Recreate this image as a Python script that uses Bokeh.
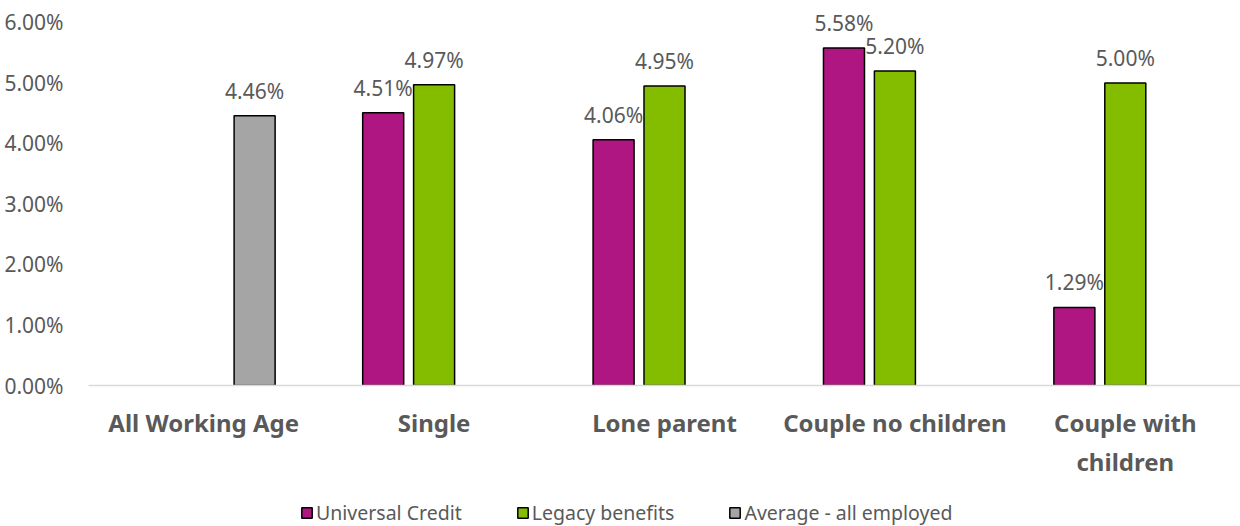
from bokeh.plotting import figure
from bokeh.layouts import column
from bokeh.models import (ColumnDataSource, Range1d, FactorRange, PrintfTickFormatter,
                          FixedTicker, Legend, LegendItem, LabelSet)
from bokeh.core.properties import value
from bokeh.transform import dodge
from bokeh.embed import file_html
from bokeh.resources import INLINE

categories = ["All Working Age", "Single", "Lone parent", "Couple no children", "Couple with\nchildren"]
universal_credit = [None, 4.51, 4.06, 5.58, 1.29]
legacy_benefits = [None, 4.97, 4.95, 5.20, 5.00]
average_all_employed = [4.46, None, None, None, None]
y_ticks = [0, 1, 2, 3, 4, 5, 6]

series = [
    ("Universal Credit", universal_credit, "#B01682", -0.221),
    ("Legacy benefits", legacy_benefits, "#84BD00", 0.0),
    ("Average - all employed", average_all_employed, "#A5A5A5", 0.221),
]

FONT = "Noto Sans"
TXT = "#595959"

p = figure(x_range=FactorRange(*categories), y_range=Range1d(0, 6.2975),
           output_backend="svg", toolbar_location=None,
           frame_width=1152, frame_height=381,
           min_border_left=88, min_border_right=0, min_border_top=4, min_border_bottom=0)
p.outline_line_color = None
p.grid.visible = False

# small figure that only carries the legend
lf = figure(width=1240, height=50, output_backend="svg", toolbar_location=None,
            x_range=Range1d(0, 1), y_range=Range1d(0, 1),
            min_border_left=0, min_border_right=0, min_border_top=0, min_border_bottom=0)
lf.outline_line_color = None
lf.grid.visible = False
lf.axis.visible = False

legend_items = []
for name, vals, color, off in series:
    cats = [c for c, v in zip(categories, vals) if v is not None]
    vs = [v for v in vals if v is not None]
    src = ColumnDataSource(dict(cat=cats, val=vs, lab=["%.2f%%" % v for v in vs]))
    p.vbar(x=dodge("cat", off, range=p.x_range), top="val", width=0.178, source=src,
           fill_color=color, line_color="black", line_width=1.5)
    labels = LabelSet(x=dodge("cat", off, range=p.x_range), y="val", text="lab", source=src,
                      text_align="center", text_baseline="middle", y_offset=25,
                      text_font=value(FONT), text_font_size=value("21px"), text_color=TXT)
    p.add_layout(labels)
    # off-screen proxy glyph, only used for the legend swatch
    lr = lf.vbar(x=[-10], top=[-10], width=0.1, fill_color=color, line_color="black", line_width=1.5)
    legend_items.append(LegendItem(label=name, renderers=[lr]))

p.yaxis.ticker = FixedTicker(ticks=y_ticks)
p.yaxis.formatter = PrintfTickFormatter(format="%.2f%%")
p.yaxis.axis_line_color = None
p.yaxis.major_tick_line_color = None
p.yaxis.minor_tick_line_color = None
p.yaxis.major_label_standoff = 19
p.yaxis.major_label_text_font = FONT
p.yaxis.major_label_text_font_size = "21px"
p.yaxis.major_label_text_color = TXT

p.xaxis.axis_line_color = "#D9D9D9"
p.xaxis.axis_line_width = 1.5
p.xaxis.major_tick_line_color = None
p.xaxis.minor_tick_line_color = None
p.xaxis.major_label_standoff = 14
p.xaxis.major_label_text_font = FONT
p.xaxis.major_label_text_font_style = "bold"
p.xaxis.major_label_text_font_size = "24px"
p.xaxis.major_label_text_color = TXT
p.xaxis.major_label_orientation = "horizontal"

legend = Legend(items=legend_items, orientation="horizontal", location=(212, 5),
                label_text_font=FONT, label_text_font_size="19.5px", label_text_color=TXT,
                glyph_width=13, glyph_height=13, spacing=54, label_standoff=3,
                border_line_color=None, background_fill_alpha=0, padding=0, margin=0)
lf.add_layout(legend)

layout = column(p, lf, spacing=0)
open("out.html", "w").write(file_html(layout, INLINE))
